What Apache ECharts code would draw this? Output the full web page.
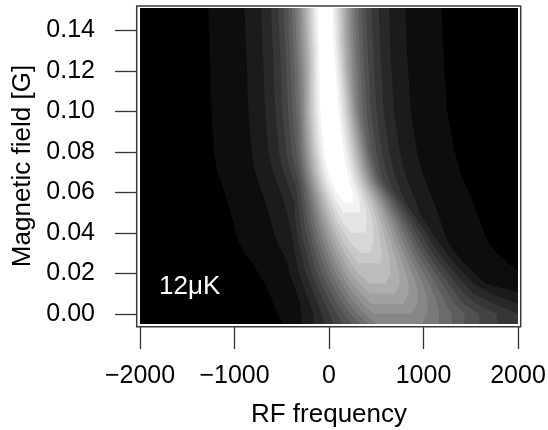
<!DOCTYPE html>
<html><head><meta charset="utf-8">
<script src="https://cdn.jsdelivr.net/npm/echarts@6/dist/echarts.min.js"></script>
<style>html,body{margin:0;padding:0;background:#fff;}#c{width:548px;height:430px;}</style>
</head><body><div id="c"></div>
<script>
// Axis ticks
const xTicks = [-2000, -1000, 0, 1000, 2000];
const yTicks = [0, 0.02, 0.04, 0.06, 0.08, 0.10, 0.12, 0.14];
// Magnetic field values at which the contour crossings were read
const rowY = [-0.005, 0, 0.005, 0.01, 0.015, 0.02, 0.025, 0.03, 0.035, 0.04, 0.045, 0.05, 0.055, 0.06, 0.065, 0.07, 0.08, 0.09, 0.10, 0.11, 0.12, 0.13, 0.14, 0.151];
// RF frequency where contour level k (1..19) is crossed on the left of the peak
const leftEdge = [
  [-490, -290, -160, -50, 45, 140, 235, 325, 410, 500],
  [-544, -290, -170, -75, 5, 82, 155, 225, 296, 376, 472],
  [-588, -305, -200, -117, -45, 21, 84, 146, 208, 274, 350, 452],
  [-631, -342, -242, -163, -94, -31, 27, 83, 139, 197, 259, 331, 433],
  [-679, -376, -280, -203, -138, -79, -25, 28, 80, 132, 187, 247, 318, 430],
  [-748, -419, -319, -246, -183, -127, -75, -25, 23, 72, 121, 173, 233, 307],
  [-810, -437, -341, -271, -212, -159, -110, -63, -18, 27, 72, 119, 171, 230, 312],
  [-895, -491, -362, -296, -239, -189, -143, -99, -57, -15, 26, 69, 115, 166, 228, 335],
  [-950, -546, -383, -319, -266, -218, -174, -133, -94, -55, -16, 23, 64, 109, 159, 226],
  [-988, -583, -397, -337, -286, -241, -199, -161, -124, -88, -52, -16, 21, 61, 105, 157, 235],
  [-1012, -609, -419, -354, -306, -264, -225, -188, -154, -120, -87, -54, -20, 15, 53, 95, 148],
  [-1040, -640, -444, -361, -316, -276, -240, -207, -175, -144, -114, -83, -53, -21, 12, 49, 91, 148],
  [-1072, -675, -476, -367, -325, -288, -255, -223, -194, -165, -138, -110, -83, -54, -25, 7, 42, 85, 154],
  [-1105, -710, -510, -403, -337, -303, -272, -243, -215, -190, -164, -139, -113, -88, -61, -34, -3, 33, 79],
  [-1140, -746, -551, -444, -368, -317, -288, -261, -236, -212, -189, -165, -142, -119, -95, -70, -42, -12, 26],
  [-1180, -784, -594, -485, -408, -350, -311, -285, -261, -237, -214, -192, -170, -147, -124, -100, -74, -45, -10],
  [-1220, -820, -641, -531, -454, -395, -347, -314, -290, -267, -246, -224, -203, -181, -159, -137, -112, -85, -53],
  [-1232, -836, -658, -550, -473, -415, -368, -329, -302, -280, -260, -239, -218, -198, -176, -155, -131, -105, -74],
  [-1244, -853, -676, -568, -492, -433, -387, -348, -314, -289, -268, -249, -229, -209, -189, -167, -145, -120, -91],
  [-1252, -863, -686, -578, -502, -443, -397, -358, -324, -294, -267, -248, -229, -210, -191, -170, -149, -125, -97],
  [-1256, -866, -691, -584, -508, -450, -404, -365, -331, -302, -275, -251, -228, -207, -189, -170, -150, -127, -101],
  [-1263, -876, -701, -594, -518, -460, -414, -375, -341, -312, -285, -261, -238, -216, -195, -173, -152, -129, -104],
  [-1271, -886, -711, -604, -528, -470, -424, -385, -351, -322, -295, -271, -248, -226, -205, -183, -162, -139, -114],
  [-1278, -893, -718, -611, -535, -477, -431, -392, -358, -329, -302, -278, -255, -233, -212, -190, -169, -146, -121]
];
// RF frequency where contour level k (1..19) is crossed on the right of the peak
const rightEdge = [
  [3925, 2848, 2341, 2020, 1783, 1592, 1434, 1303, 1161, 985],
  [3874, 2812, 2315, 2000, 1772, 1589, 1434, 1295, 1167, 1038, 873],
  [3281, 2406, 2000, 1744, 1559, 1421, 1328, 1236, 1145, 1046, 934, 782],
  [2749, 2039, 1711, 1525, 1430, 1343, 1263, 1185, 1107, 1027, 941, 842, 700],
  [2151, 1653, 1528, 1428, 1343, 1267, 1195, 1126, 1059, 991, 919, 841, 749, 603],
  [2029, 1542, 1427, 1336, 1258, 1188, 1124, 1062, 1002, 942, 881, 816, 742, 650],
  [1901, 1432, 1326, 1243, 1172, 1109, 1051, 995, 942, 888, 834, 778, 717, 646, 548],
  [1779, 1340, 1242, 1164, 1099, 1040, 987, 936, 887, 839, 790, 740, 687, 629, 556, 432],
  [1691, 1264, 1165, 1092, 1031, 977, 927, 880, 835, 791, 746, 702, 655, 604, 546, 470],
  [1641, 1221, 1091, 1024, 967, 916, 870, 827, 785, 745, 705, 665, 623, 578, 529, 471, 384],
  [1606, 1186, 1018, 955, 902, 855, 813, 773, 735, 698, 662, 626, 588, 550, 509, 462, 404],
  [1565, 1148, 958, 884, 835, 791, 752, 716, 681, 647, 614, 581, 548, 514, 478, 438, 392, 330],
  [1527, 1112, 923, 811, 766, 726, 690, 656, 625, 594, 564, 535, 505, 474, 443, 408, 370, 324, 250],
  [1479, 1067, 879, 764, 690, 653, 620, 589, 560, 533, 506, 479, 452, 425, 396, 366, 333, 296, 246],
  [1435, 1025, 838, 724, 643, 581, 549, 520, 494, 469, 444, 420, 396, 371, 346, 319, 291, 259, 219],
  [1390, 985, 801, 688, 608, 547, 506, 479, 454, 429, 405, 382, 359, 336, 311, 287, 260, 230, 193],
  [1331, 932, 750, 639, 561, 501, 453, 420, 396, 373, 351, 329, 308, 286, 263, 240, 215, 188, 155],
  [1292, 898, 718, 608, 530, 471, 424, 384, 359, 336, 315, 294, 273, 252, 230, 208, 184, 158, 126],
  [1250, 863, 686, 578, 502, 443, 397, 358, 324, 299, 278, 259, 239, 219, 199, 177, 155, 130, 101],
  [1240, 853, 676, 568, 492, 433, 387, 348, 314, 284, 257, 238, 219, 200, 181, 160, 139, 115, 87],
  [1221, 836, 661, 554, 478, 420, 374, 335, 301, 272, 245, 221, 198, 177, 159, 140, 120, 97, 71],
  [1211, 826, 651, 544, 468, 410, 364, 325, 291, 262, 235, 211, 188, 166, 145, 123, 102, 79, 54],
  [1201, 816, 641, 534, 458, 400, 354, 315, 281, 252, 225, 201, 178, 156, 135, 113, 92, 69, 44],
  [1194, 809, 634, 527, 451, 393, 347, 308, 274, 245, 218, 194, 171, 149, 128, 106, 85, 62, 37]
];
const levels = [1, 2, 3, 4, 5, 6, 7, 8, 9, 10, 11, 12, 13, 14, 15, 16, 17, 18, 19];
const annotText = '12\u03bcK';
const annotPos = [-1804, 0.0135];

// gray palette (style): level k -> gray(k/19)
const grays = [];
for (let k = 0; k <= 19; k++) { const v = Math.round(k * 255 / 19); grays.push('rgb(' + v + ',' + v + ',' + v + ')'); }

const FONT = 'Liberation Sans, Arial, sans-serif';
const chart = echarts.init(document.getElementById('c'), null, {renderer: 'canvas'});
chart.setOption({
  animation: false,
  backgroundColor: '#fff',
  grid: [
    {left: 140, top: 8, width: 378, height: 316, show: true, backgroundColor: '#000', borderWidth: 0, containLabel: false, outerBoundsMode: 'none'},
    {left: 136.7, top: 6, width: 384, height: 320.7, show: true, backgroundColor: 'transparent', borderColor: '#3a3a3a', borderWidth: 1.5, containLabel: false, outerBoundsMode: 'none', z: 10}
  ],
  xAxis: [
    {
      type: 'value', gridIndex: 0, min: xTicks[0], max: xTicks[xTicks.length - 1], interval: 1000, offset: 3,
      axisLine: {show: false, onZero: false}, splitLine: {show: false},
      axisTick: {show: true, inside: false, length: 22, lineStyle: {color: '#333', width: 1.3}},
      axisLabel: {show: true, fontSize: 25, color: '#000', fontFamily: FONT, margin: 37, showMinLabel: true, showMaxLabel: true,
        formatter: v => String(v).replace('-', '\u2212')},
      name: 'RF frequency', nameLocation: 'middle', nameGap: 75,
      nameTextStyle: {fontSize: 26, color: '#000', fontFamily: FONT}
    },
    {type: 'value', gridIndex: 1, show: false, min: 0, max: 1}
  ],
  yAxis: [
    {
      type: 'value', gridIndex: 0, min: -0.005, max: 0.151, offset: 3,
      axisLine: {show: false, onZero: false}, splitLine: {show: false},
      axisTick: {show: true, inside: false, length: 22, customValues: yTicks, lineStyle: {color: '#333', width: 1.3}},
      axisLabel: {show: true, customValues: yTicks, fontSize: 25, color: '#000', fontFamily: FONT, margin: 42,
        formatter: v => v.toFixed(2)},
      name: 'Magnetic field [G]', nameLocation: 'middle', nameGap: 101, nameRotate: 90,
      nameTextStyle: {fontSize: 26, color: '#000', fontFamily: FONT}
    },
    {type: 'value', gridIndex: 1, show: false, min: 0, max: 1}
  ],
  series: [
    {
      type: 'custom', xAxisIndex: 0, yAxisIndex: 0, silent: true, clip: true,
      data: levels.map(k => [k]),
      renderItem: function (params, api) {
        const k = api.value(0);
        const leftPts = [], rightPts = [];
        for (let j = 0; j < rowY.length; j++) {
          if (leftEdge[j].length >= k) {
            leftPts.push(api.coord([leftEdge[j][k - 1], rowY[j]]));
            rightPts.push(api.coord([rightEdge[j][k - 1], rowY[j]]));
          }
        }
        if (!leftPts.length) return null;
        const pts = leftPts.concat(rightPts.reverse());
        return {type: 'polygon', shape: {points: pts}, style: {fill: grays[k]}};
      }
    },
    {
      type: 'scatter', xAxisIndex: 0, yAxisIndex: 0, silent: true, z: 5,
      symbolSize: 1, itemStyle: {color: 'rgba(0,0,0,0)'},
      data: [annotPos],
      label: {show: true, formatter: annotText, position: 'right', distance: 0, color: '#ffffff', opacity: 1, textBorderWidth: 0, fontSize: 26, fontFamily: FONT}
    }
  ]
});
</script>
</body></html>
